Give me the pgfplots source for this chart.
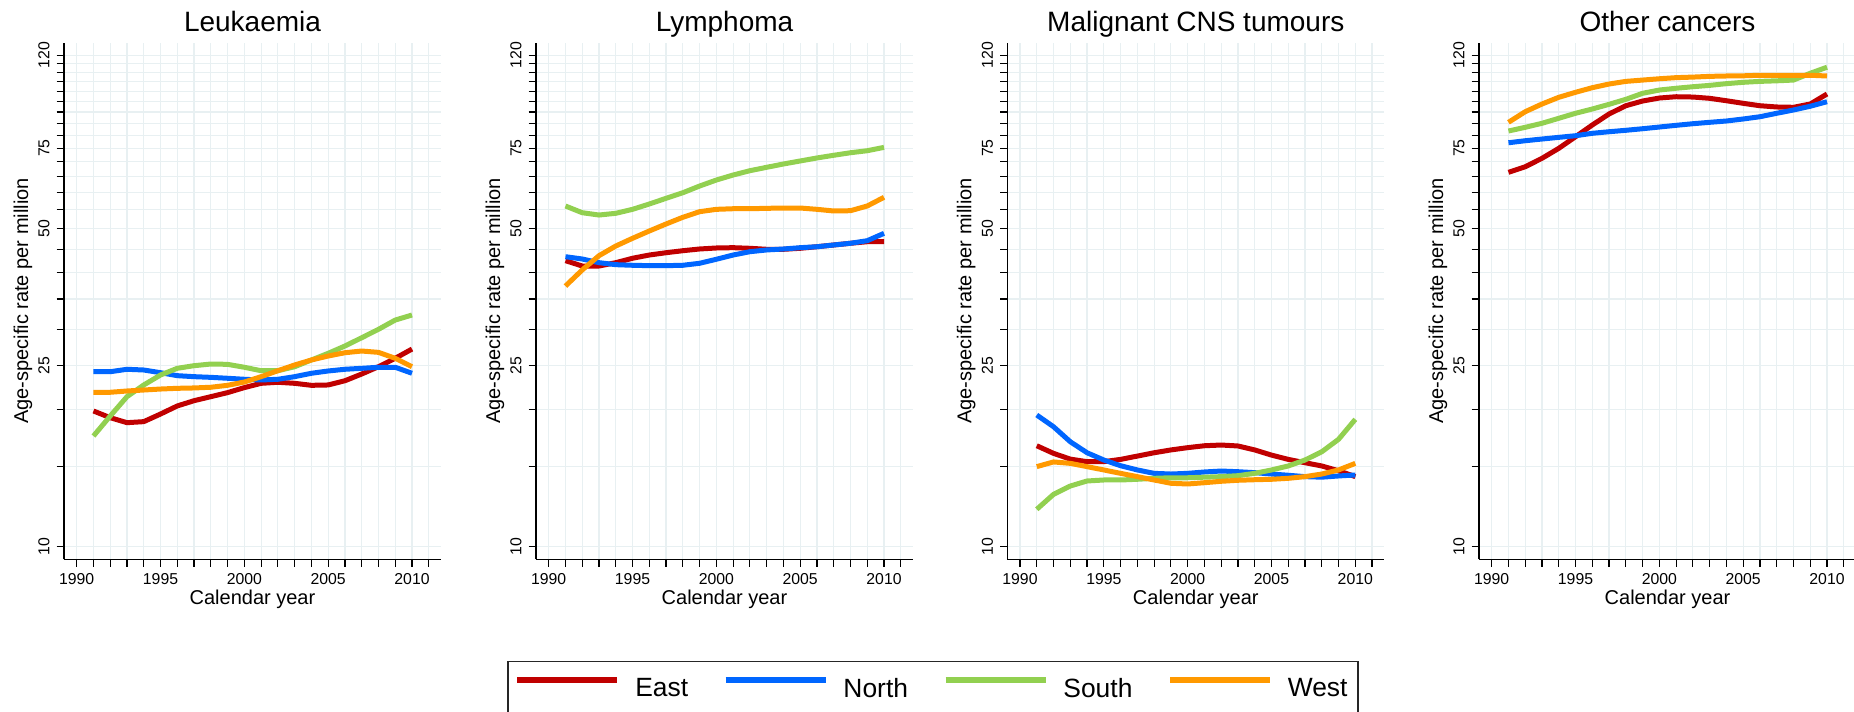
\documentclass[border=0pt]{standalone}
\usepackage{fontspec}
\setmainfont{Liberation Sans}
\usepackage{pgfplots}
\pgfplotsset{compat=1.18}
\definecolor{cEast}{RGB}{192,0,0}
\definecolor{cNorth}{RGB}{0,102,255}
\definecolor{cSouth}{RGB}{146,208,80}
\definecolor{cWest}{RGB}{255,153,0}
\definecolor{gridc}{RGB}{232,240,242}
\pgfplotsset{myaxis/.style={
  scale only axis, width=188.5pt, height=258.3pt,
  xmin=1989.243, xmax=2011.729, ymin=9.383, ymax=127.8,
  axis lines*=left,
  xtick={1990,1995,2000,2005,2010}, xticklabels={1990,1995,2000,2005,2010},
  minor xtick={1991,1992,1993,1994,1996,1997,1998,1999,2001,2002,2003,2004,2006,2007,2008,2009,2011},
  ytick={10,25,50,75,120}, yticklabels={10,25,50,75,120},
  minor ytick={15,20,30,35,40,45,55,60,65,70,80,85,90,95,100,105,110,115},
  grid=both, major grid style={gridc, line width=0.6pt}, minor grid style={gridc, line width=0.6pt},
  tick align=outside, major tick length=3.65pt, minor tick length=3.65pt,
  major tick style={black, line width=0.6pt},
  minor tick style={black, line width=0.6pt},
  axis line style={black, line width=0.65pt},
  tick label style={font=\fontsize{7.9}{9}\selectfont},
  yticklabel style={rotate=90, anchor=south},
  xlabel={Calendar year}, ylabel={Age-specific rate per million},
  every axis x label/.style={at={(axis description cs:0.5,-0.0594)}, anchor=north, inner sep=0pt, font=\fontsize{10}{12}\selectfont},
  every axis y label/.style={at={(axis description cs:-0.1345,0.5)}, rotate=90, anchor=north, inner sep=0pt, font=\fontsize{10}{12}\selectfont},
  every axis title/.style={at={(axis description cs:0.5,1.0213)}, anchor=base, inner sep=0pt, font=\fontsize{14}{16}\selectfont},
  every axis plot/.append style={line width=2.5pt, line join=round, mark=none},
}}
\begin{document}
\begin{tikzpicture}
\useasboundingbox (0pt,0pt) rectangle (927pt,356pt);
% ---------- Leukaemia ----------
\begin{axis}[ymode=log, myaxis, at={(32pt,76.35pt)}, anchor=south west, title={Leukaemia},
  legend columns=4,
  legend style={at={(2.305,-0.1963)}, anchor=north, draw=black!85, line width=0.65pt,
    inner xsep=3.3pt, inner ysep=6.4pt, font=\fontsize{13.2}{15}\selectfont,
    /tikz/every odd column/.append style={column sep=5.4pt},
    /tikz/every even column/.append style={column sep=15.3pt}},
  legend image code/.code={\draw[#1, line width=3pt] (0pt,4.7pt) -- (50pt,4.7pt);}]
\addplot[cEast] coordinates {(1991,19.86)(1992,19.20)(1993,18.72)(1994,18.82)(1995,19.56)(1996,20.37)(1997,20.92)(1998,21.35)(1999,21.79)(2000,22.35)(2001,22.84)(2002,22.96)(2003,22.84)(2004,22.61)(2005,22.65)(2006,23.14)(2007,23.94)(2008,24.84)(2009,25.92)(2010,27.16)};
\addlegendentry{East}
\addplot[cNorth] coordinates {(1991,24.22)(1992,24.22)(1993,24.52)(1994,24.43)(1995,24.10)(1996,23.74)(1997,23.62)(1998,23.54)(1999,23.43)(2000,23.31)(2001,23.23)(2002,23.31)(2003,23.62)(2004,24.03)(2005,24.31)(2006,24.52)(2007,24.64)(2008,24.77)(2009,24.77)(2010,24.03)};
\addlegendentry{North}
\addplot[cSouth] coordinates {(1991,17.50)(1992,19.36)(1993,21.35)(1994,22.65)(1995,23.82)(1996,24.64)(1997,24.97)(1998,25.18)(1999,25.14)(2000,24.77)(2001,24.34)(2002,24.34)(2003,24.84)(2004,25.70)(2005,26.58)(2006,27.58)(2007,28.76)(2008,30.01)(2009,31.45)(2010,32.26)};
\addlegendentry{South}
\addplot[cWest] coordinates {(1991,21.83)(1992,21.83)(1993,21.97)(1994,22.08)(1995,22.19)(1996,22.27)(1997,22.31)(1998,22.39)(1999,22.61)(2000,22.99)(2001,23.62)(2002,24.34)(2003,25.06)(2004,25.70)(2005,26.22)(2006,26.66)(2007,26.89)(2008,26.71)(2009,25.92)(2010,24.84)};
\addlegendentry{West}
\end{axis}
% ---------- Lymphoma ----------
\begin{axis}[ymode=log, myaxis, at={(268pt,76.35pt)}, anchor=south west, title={Lymphoma}]
\addplot[cEast] coordinates {(1991,42.46)(1992,41.33)(1993,41.33)(1994,42.03)(1995,42.98)(1996,43.69)(1997,44.20)(1998,44.65)(1999,45.04)(2000,45.27)(2001,45.34)(2002,45.20)(2003,44.97)(2004,44.97)(2005,45.20)(2006,45.56)(2007,45.96)(2008,46.36)(2009,46.73)(2010,46.73)};
\addplot[cNorth] coordinates {(1991,43.32)(1992,42.82)(1993,42.03)(1994,41.61)(1995,41.48)(1996,41.40)(1997,41.40)(1998,41.48)(1999,41.90)(2000,42.76)(2001,43.69)(2002,44.43)(2003,44.82)(2004,45.04)(2005,45.34)(2006,45.56)(2007,45.96)(2008,46.36)(2009,46.97)(2010,48.75)};
\addplot[cSouth] coordinates {(1991,55.98)(1992,54.11)(1993,53.48)(1994,53.94)(1995,55.04)(1996,56.54)(1997,58.19)(1998,59.86)(1999,61.92)(2000,63.83)(2001,65.47)(2002,66.91)(2003,68.07)(2004,69.22)(2005,70.28)(2006,71.36)(2007,72.34)(2008,73.28)(2009,74.03)(2010,75.30)};
\addplot[cWest] coordinates {(1991,37.35)(1992,40.51)(1993,43.54)(1994,45.72)(1995,47.54)(1996,49.33)(1997,51.11)(1998,52.87)(1999,54.39)(2000,55.04)(2001,55.21)(2002,55.21)(2003,55.32)(2004,55.41)(2005,55.41)(2006,55.04)(2007,54.58)(2008,54.66)(2009,55.98)(2010,58.49)};
\end{axis}
% ---------- CNS ----------
\begin{axis}[ymode=log, myaxis, at={(503.65pt,76.35pt)}, anchor=south west, title={Malignant CNS tumours}]
\addplot[cEast] coordinates {(1991,16.66)(1992,16.03)(1993,15.57)(1994,15.37)(1995,15.37)(1996,15.55)(1997,15.81)(1998,16.08)(1999,16.31)(2000,16.50)(2001,16.66)(2002,16.72)(2003,16.64)(2004,16.31)(2005,15.89)(2006,15.55)(2007,15.29)(2008,15.04)(2009,14.68)(2010,14.25)};
\addplot[cNorth] coordinates {(1991,19.46)(1992,18.34)(1993,17.00)(1994,16.08)(1995,15.50)(1996,15.06)(1997,14.74)(1998,14.49)(1999,14.44)(2000,14.49)(2001,14.59)(2002,14.66)(2003,14.61)(2004,14.54)(2005,14.44)(2006,14.35)(2007,14.25)(2008,14.21)(2009,14.30)(2010,14.37)};
\addplot[cSouth] coordinates {(1991,12.08)(1992,13.03)(1993,13.59)(1994,13.94)(1995,14.01)(1996,14.01)(1997,14.06)(1998,14.13)(1999,14.17)(2000,14.17)(2001,14.21)(2002,14.25)(2003,14.32)(2004,14.49)(2005,14.74)(2006,15.04)(2007,15.50)(2008,16.16)(2009,17.21)(2010,19.04)};
\addplot[cWest] coordinates {(1991,14.99)(1992,15.35)(1993,15.24)(1994,14.99)(1995,14.74)(1996,14.49)(1997,14.25)(1998,14.01)(1999,13.78)(2000,13.73)(2001,13.82)(2002,13.92)(2003,13.99)(2004,14.03)(2005,14.06)(2006,14.13)(2007,14.25)(2008,14.44)(2009,14.74)(2010,15.24)};
\end{axis}
% ---------- Other ----------
\begin{axis}[ymode=log, myaxis, at={(739.5pt,76.35pt)}, anchor=south west, title={Other cancers}]
\addplot[cEast] coordinates {(1991,66.36)(1992,68.27)(1993,71.24)(1994,74.92)(1995,79.45)(1996,84.30)(1997,89.13)(1998,92.93)(1999,95.16)(2000,96.62)(2001,97.25)(2002,97.10)(2003,96.47)(2004,95.30)(2005,94.06)(2006,92.93)(2007,92.34)(2008,92.19)(2009,93.74)(2010,98.60)};
\addplot[cNorth] coordinates {(1991,77.07)(1992,77.86)(1993,78.54)(1994,79.21)(1995,79.86)(1996,80.83)(1997,81.48)(1998,82.07)(1999,82.73)(2000,83.44)(2001,84.16)(2002,84.85)(2003,85.45)(2004,86.02)(2005,86.90)(2006,87.90)(2007,89.44)(2008,90.94)(2009,92.68)(2010,94.84)};
\addplot[cSouth] coordinates {(1991,81.77)(1992,83.32)(1993,85.03)(1994,87.21)(1995,89.44)(1996,91.40)(1997,93.59)(1998,95.98)(1999,98.95)(2000,100.6)(2001,101.5)(2002,102.3)(2003,103.0)(2004,103.9)(2005,104.6)(2006,105.1)(2007,105.4)(2008,105.8)(2009,109.5)(2010,112.9)};
\addplot[cWest] coordinates {(1991,85.45)(1992,90.16)(1993,93.74)(1994,96.96)(1995,99.45)(1996,101.8)(1997,103.7)(1998,105.1)(1999,105.8)(2000,106.5)(2001,107.1)(2002,107.4)(2003,107.8)(2004,108.0)(2005,108.1)(2006,108.4)(2007,108.4)(2008,108.4)(2009,108.4)(2010,108.0)};
\end{axis}
\end{tikzpicture}
\end{document}
